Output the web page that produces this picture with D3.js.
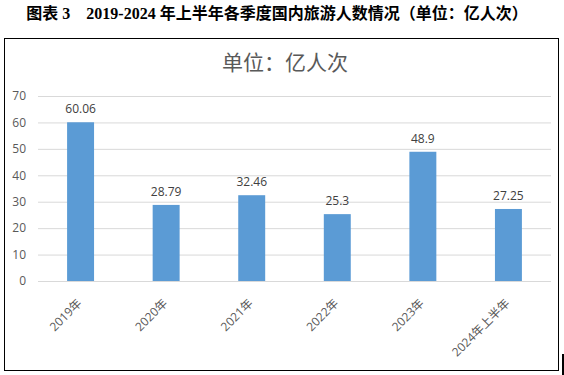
<!DOCTYPE html>
<html>
<head>
<meta charset="utf-8">
<script src="https://cdn.jsdelivr.net/npm/d3@7"></script>
<style>
  body { margin: 0; background: #fff; }
</style>
</head>
<body>
<div id="chart"></div>
<script>
// data
const years = ["2019年", "2020年", "2021年", "2022年", "2023年", "2024年上半年"];
const visitors = [60.06, 28.79, 32.46, 25.3, 48.9, 27.25];
const valueLabels = ["60.06", "28.79", "32.46", "25.3", "48.9", "27.25"];
const yTicks = [0, 10, 20, 30, 40, 50, 60, 70];

const svgWidth = 564, svgHeight = 375;
const margin = {top: 96, right: 13, bottom: 94, left: 38};

let svg = d3.select("#chart").append("svg")
  .attr("width", svgWidth)
  .attr("height", svgHeight);

// caption above the frame
svg.append("text")
  .attr("x", 277)
  .attr("y", 19)
  .attr("text-anchor", "middle")
  .style("font-family", "'Liberation Serif', 'Noto Sans CJK SC', serif")
  .style("font-weight", "bold")
  .style("font-size", "16px")
  .attr("fill", "#000")
  .text("图表 3\u00a0\u00a0\u00a0 2019-2024 年上半年各季度国内旅游人数情况（单位：亿人次）");

// chart frame
svg.append("rect")
  .attr("x", 4.5).attr("y", 38.5)
  .attr("width", 554).attr("height", 332)
  .attr("fill", "none")
  .attr("stroke", "#000")
  .attr("stroke-width", 1);

// stray page mark at the right edge
svg.append("rect")
  .attr("x", 562).attr("y", 354)
  .attr("width", 2).attr("height", 21)
  .attr("fill", "#000");

// chart title
svg.append("text")
  .attr("x", 285)
  .attr("y", 70)
  .attr("text-anchor", "middle")
  .style("font-family", "'Noto Sans CJK SC', sans-serif")
  .style("font-size", "21px")
  .attr("fill", "#595959")
  .text("单位：亿人次");

let xScale = d3.scaleBand()
  .domain(years)
  .range([margin.left, svgWidth - margin.right])
  .paddingInner(0.685)
  .paddingOuter(0.34);

let yScale = d3.scaleLinear()
  .domain([0, 70])
  .range([svgHeight - margin.bottom, margin.top]);

// gridlines
let yAxis = d3.axisLeft(yScale)
  .tickValues(yTicks)
  .tickSize(-(svgWidth - margin.right - margin.left))
  .tickPadding(12);

let yG = svg.append("g")
  .attr("transform", "translate(" + margin.left + ",0)")
  .call(yAxis);
yG.select(".domain").remove();
yG.selectAll(".tick line").attr("stroke", "#d9d9d9");
yG.selectAll(".tick text")
  .attr("fill", "#595959")
  .style("font-family", "'Open Sans', 'Noto Sans', sans-serif")
  .style("font-size", "12px");

// bars
svg.append("g").selectAll("rect")
  .data(visitors)
  .enter()
  .append("rect")
  .attr("x", (d, i) => xScale(years[i]))
  .attr("y", d => yScale(d))
  .attr("width", xScale.bandwidth())
  .attr("height", d => yScale(0) - yScale(d))
  .attr("fill", "#5b9bd5");

// value labels
svg.append("g").selectAll("text")
  .data(visitors)
  .enter()
  .append("text")
  .attr("x", (d, i) => xScale(years[i]) + xScale.bandwidth() / 2)
  .attr("y", d => yScale(d) - 9)
  .attr("text-anchor", "middle")
  .attr("fill", "#404040")
  .style("font-family", "'Open Sans', 'Noto Sans', sans-serif")
  .style("font-size", "12px")
  .text((d, i) => valueLabels[i]);

// x axis labels, rotated
let xAxis = d3.axisBottom(xScale).tickSize(0).tickPadding(0);
let xG = svg.append("g")
  .attr("transform", "translate(0," + yScale(0) + ")")
  .call(xAxis);
xG.select(".domain").remove();
xG.selectAll(".tick text")
  .attr("fill", "#595959")
  .style("font-family", "'Open Sans', 'Noto Sans CJK SC', sans-serif")
  .style("font-size", "12px")
  .attr("text-anchor", "end")
  .attr("dy", null)
  .attr("y", 0)
  .attr("transform", "translate(2,23) rotate(-45)");
</script>
</body>
</html>
